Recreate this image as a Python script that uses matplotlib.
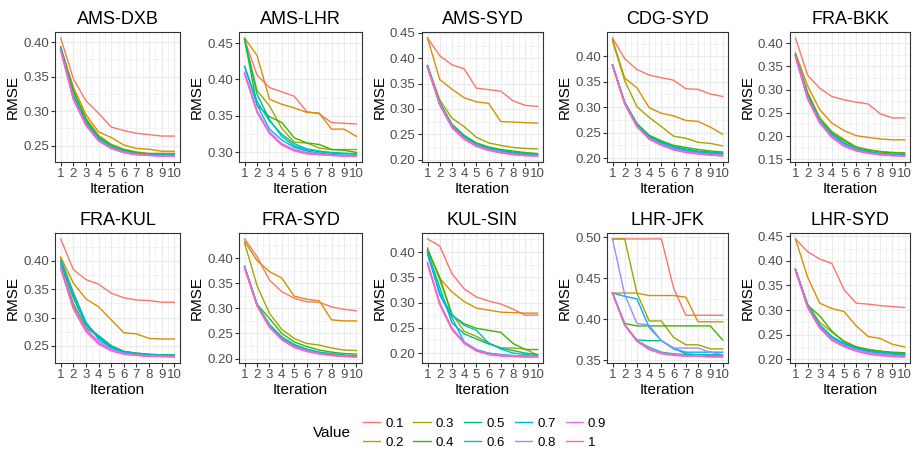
import matplotlib
matplotlib.use("Agg")
import matplotlib.pyplot as plt
from matplotlib.ticker import MultipleLocator, FormatStrFormatter
from matplotlib.lines import Line2D

plt.rcParams['font.family'] = ['Liberation Sans', 'DejaVu Sans']

iterations = [1, 2, 3, 4, 5, 6, 7, 8, 9, 10]
values = ["0.1", "0.2", "0.3", "0.4", "0.5", "0.6", "0.7", "0.8", "0.9", "1"]
colors = ["#F8766D", "#D89000", "#A3A500", "#39B600", "#00BF7D",
          "#00BFC4", "#00B0F6", "#9590FF", "#E76BF3", "#FF62BC"]
routes = ["AMS-DXB", "AMS-LHR", "AMS-SYD", "CDG-SYD", "FRA-BKK",
          "FRA-KUL", "FRA-SYD", "KUL-SIN", "LHR-JFK", "LHR-SYD"]

# one row per Value (0.1 ... 1), RMSE for iterations 1..10
ams_dxb = [
    [0.406, 0.347, 0.315, 0.297, 0.277, 0.272, 0.268, 0.266, 0.264, 0.264],
    [0.393, 0.335, 0.295, 0.270, 0.262, 0.251, 0.246, 0.245, 0.242, 0.242],
    [0.392, 0.330, 0.290, 0.265, 0.252, 0.245, 0.241, 0.239, 0.239, 0.239],
    [0.393, 0.330, 0.288, 0.263, 0.251, 0.244, 0.240, 0.238, 0.238, 0.238],
    [0.391, 0.324, 0.285, 0.261, 0.249, 0.243, 0.239, 0.237, 0.237, 0.237],
    [0.390, 0.322, 0.283, 0.260, 0.248, 0.242, 0.238, 0.237, 0.236, 0.236],
    [0.390, 0.321, 0.282, 0.259, 0.247, 0.241, 0.238, 0.237, 0.236, 0.236],
    [0.389, 0.319, 0.281, 0.258, 0.247, 0.241, 0.238, 0.236, 0.236, 0.236],
    [0.388, 0.318, 0.280, 0.257, 0.246, 0.240, 0.237, 0.236, 0.235, 0.235],
    [0.388, 0.317, 0.279, 0.257, 0.246, 0.240, 0.237, 0.236, 0.235, 0.235],
]
ams_lhr = [
    [0.455, 0.406, 0.389, 0.383, 0.377, 0.356, 0.353, 0.341, 0.340, 0.339],
    [0.457, 0.433, 0.373, 0.366, 0.361, 0.355, 0.354, 0.332, 0.332, 0.322],
    [0.455, 0.385, 0.364, 0.333, 0.314, 0.313, 0.306, 0.304, 0.304, 0.304],
    [0.455, 0.365, 0.349, 0.341, 0.320, 0.313, 0.311, 0.304, 0.303, 0.300],
    [0.455, 0.380, 0.345, 0.322, 0.309, 0.304, 0.301, 0.299, 0.298, 0.298],
    [0.418, 0.370, 0.343, 0.325, 0.312, 0.305, 0.302, 0.300, 0.299, 0.298],
    [0.418, 0.365, 0.332, 0.317, 0.307, 0.302, 0.299, 0.297, 0.296, 0.296],
    [0.410, 0.357, 0.328, 0.312, 0.304, 0.300, 0.298, 0.296, 0.296, 0.295],
    [0.408, 0.356, 0.327, 0.311, 0.303, 0.299, 0.297, 0.296, 0.295, 0.295],
    [0.408, 0.355, 0.326, 0.310, 0.302, 0.298, 0.297, 0.296, 0.295, 0.295],
]
ams_syd = [
    [0.440, 0.405, 0.387, 0.379, 0.341, 0.338, 0.335, 0.316, 0.307, 0.305],
    [0.440, 0.358, 0.339, 0.322, 0.314, 0.311, 0.275, 0.274, 0.273, 0.272],
    [0.386, 0.318, 0.282, 0.265, 0.244, 0.233, 0.228, 0.224, 0.222, 0.221],
    [0.385, 0.313, 0.270, 0.248, 0.233, 0.225, 0.220, 0.217, 0.214, 0.212],
    [0.384, 0.312, 0.268, 0.246, 0.231, 0.223, 0.218, 0.215, 0.212, 0.211],
    [0.384, 0.311, 0.267, 0.244, 0.230, 0.222, 0.217, 0.213, 0.211, 0.210],
    [0.383, 0.310, 0.266, 0.243, 0.229, 0.221, 0.216, 0.212, 0.210, 0.209],
    [0.383, 0.309, 0.265, 0.242, 0.228, 0.220, 0.215, 0.211, 0.209, 0.208],
    [0.382, 0.308, 0.264, 0.241, 0.227, 0.219, 0.214, 0.210, 0.208, 0.207],
    [0.382, 0.308, 0.263, 0.240, 0.226, 0.218, 0.213, 0.210, 0.208, 0.207],
]
cdg_syd = [
    [0.436, 0.395, 0.374, 0.363, 0.358, 0.353, 0.336, 0.335, 0.326, 0.321],
    [0.433, 0.357, 0.338, 0.299, 0.288, 0.283, 0.274, 0.272, 0.261, 0.247],
    [0.430, 0.352, 0.301, 0.280, 0.262, 0.243, 0.239, 0.231, 0.229, 0.224],
    [0.383, 0.310, 0.268, 0.245, 0.234, 0.225, 0.221, 0.217, 0.214, 0.212],
    [0.383, 0.309, 0.266, 0.243, 0.232, 0.223, 0.218, 0.214, 0.212, 0.210],
    [0.383, 0.308, 0.265, 0.241, 0.230, 0.221, 0.216, 0.212, 0.210, 0.209],
    [0.383, 0.308, 0.264, 0.240, 0.229, 0.220, 0.215, 0.211, 0.209, 0.208],
    [0.382, 0.307, 0.263, 0.239, 0.227, 0.218, 0.213, 0.210, 0.207, 0.206],
    [0.382, 0.306, 0.262, 0.238, 0.226, 0.217, 0.212, 0.209, 0.206, 0.205],
    [0.382, 0.306, 0.262, 0.237, 0.225, 0.216, 0.211, 0.208, 0.206, 0.204],
]
fra_bkk = [
    [0.411, 0.331, 0.303, 0.285, 0.278, 0.273, 0.269, 0.248, 0.239, 0.239],
    [0.379, 0.308, 0.257, 0.228, 0.212, 0.201, 0.197, 0.194, 0.192, 0.192],
    [0.376, 0.295, 0.240, 0.210, 0.193, 0.177, 0.171, 0.167, 0.165, 0.164],
    [0.375, 0.290, 0.236, 0.207, 0.190, 0.176, 0.170, 0.166, 0.164, 0.163],
    [0.374, 0.287, 0.234, 0.204, 0.186, 0.173, 0.167, 0.163, 0.161, 0.160],
    [0.374, 0.286, 0.233, 0.203, 0.185, 0.172, 0.166, 0.162, 0.160, 0.159],
    [0.373, 0.285, 0.232, 0.202, 0.184, 0.171, 0.165, 0.162, 0.160, 0.159],
    [0.372, 0.283, 0.230, 0.200, 0.181, 0.170, 0.164, 0.161, 0.159, 0.158],
    [0.371, 0.281, 0.229, 0.198, 0.179, 0.169, 0.163, 0.160, 0.158, 0.157],
    [0.370, 0.280, 0.228, 0.197, 0.178, 0.168, 0.163, 0.160, 0.158, 0.157],
]
fra_kul = [
    [0.439, 0.385, 0.367, 0.359, 0.343, 0.335, 0.331, 0.330, 0.327, 0.327],
    [0.407, 0.361, 0.333, 0.319, 0.296, 0.273, 0.271, 0.263, 0.262, 0.262],
    [0.405, 0.345, 0.290, 0.265, 0.248, 0.240, 0.237, 0.235, 0.234, 0.233],
    [0.390, 0.325, 0.282, 0.267, 0.250, 0.240, 0.236, 0.234, 0.234, 0.233],
    [0.395, 0.335, 0.286, 0.268, 0.250, 0.240, 0.237, 0.235, 0.234, 0.234],
    [0.400, 0.340, 0.290, 0.265, 0.247, 0.239, 0.236, 0.234, 0.233, 0.233],
    [0.400, 0.342, 0.292, 0.262, 0.246, 0.238, 0.235, 0.233, 0.233, 0.232],
    [0.390, 0.320, 0.280, 0.258, 0.244, 0.237, 0.234, 0.232, 0.232, 0.231],
    [0.388, 0.318, 0.278, 0.255, 0.242, 0.236, 0.233, 0.232, 0.231, 0.231],
    [0.386, 0.315, 0.275, 0.253, 0.241, 0.235, 0.233, 0.231, 0.231, 0.230],
]
fra_syd = [
    [0.438, 0.403, 0.356, 0.333, 0.320, 0.313, 0.312, 0.303, 0.298, 0.295],
    [0.433, 0.395, 0.373, 0.360, 0.324, 0.318, 0.315, 0.277, 0.275, 0.275],
    [0.430, 0.345, 0.290, 0.258, 0.240, 0.230, 0.227, 0.221, 0.217, 0.216],
    [0.383, 0.308, 0.280, 0.250, 0.233, 0.224, 0.217, 0.213, 0.210, 0.209],
    [0.383, 0.308, 0.268, 0.243, 0.228, 0.219, 0.213, 0.210, 0.207, 0.206],
    [0.383, 0.307, 0.266, 0.241, 0.226, 0.218, 0.212, 0.209, 0.206, 0.205],
    [0.383, 0.307, 0.265, 0.240, 0.225, 0.217, 0.211, 0.208, 0.206, 0.205],
    [0.382, 0.306, 0.264, 0.239, 0.224, 0.216, 0.210, 0.207, 0.205, 0.204],
    [0.381, 0.305, 0.263, 0.238, 0.223, 0.215, 0.210, 0.207, 0.205, 0.203],
    [0.380, 0.305, 0.262, 0.237, 0.222, 0.214, 0.209, 0.206, 0.204, 0.203],
]
kul_sin = [
    [0.426, 0.412, 0.357, 0.327, 0.311, 0.303, 0.297, 0.287, 0.275, 0.275],
    [0.405, 0.348, 0.321, 0.302, 0.289, 0.285, 0.281, 0.280, 0.279, 0.279],
    [0.408, 0.345, 0.278, 0.243, 0.233, 0.220, 0.210, 0.210, 0.208, 0.196],
    [0.405, 0.350, 0.275, 0.258, 0.249, 0.245, 0.241, 0.219, 0.207, 0.207],
    [0.400, 0.330, 0.260, 0.238, 0.228, 0.218, 0.210, 0.205, 0.200, 0.197],
    [0.395, 0.320, 0.275, 0.255, 0.245, 0.220, 0.208, 0.200, 0.197, 0.195],
    [0.400, 0.315, 0.270, 0.222, 0.207, 0.200, 0.197, 0.195, 0.194, 0.194],
    [0.380, 0.300, 0.250, 0.221, 0.206, 0.199, 0.196, 0.195, 0.194, 0.194],
    [0.378, 0.298, 0.248, 0.220, 0.205, 0.198, 0.195, 0.194, 0.193, 0.193],
    [0.376, 0.296, 0.246, 0.219, 0.204, 0.197, 0.194, 0.193, 0.192, 0.192],
]
lhr_jfk = [
    [0.498, 0.498, 0.498, 0.498, 0.498, 0.438, 0.405, 0.405, 0.405, 0.405],
    [0.432, 0.432, 0.432, 0.429, 0.429, 0.429, 0.427, 0.397, 0.397, 0.397],
    [0.498, 0.498, 0.432, 0.398, 0.398, 0.378, 0.369, 0.369, 0.364, 0.364],
    [0.432, 0.395, 0.392, 0.392, 0.392, 0.392, 0.392, 0.392, 0.392, 0.375],
    [0.432, 0.393, 0.375, 0.374, 0.374, 0.365, 0.358, 0.357, 0.356, 0.356],
    [0.432, 0.393, 0.374, 0.366, 0.360, 0.358, 0.357, 0.357, 0.357, 0.357],
    [0.432, 0.428, 0.425, 0.390, 0.374, 0.364, 0.360, 0.360, 0.360, 0.360],
    [0.498, 0.430, 0.395, 0.393, 0.374, 0.365, 0.365, 0.365, 0.360, 0.357],
    [0.432, 0.394, 0.374, 0.364, 0.359, 0.357, 0.356, 0.355, 0.355, 0.355],
    [0.432, 0.393, 0.373, 0.363, 0.358, 0.356, 0.355, 0.355, 0.354, 0.354],
]
lhr_syd = [
    [0.445, 0.419, 0.404, 0.395, 0.342, 0.314, 0.312, 0.309, 0.307, 0.305],
    [0.445, 0.367, 0.314, 0.303, 0.297, 0.268, 0.246, 0.242, 0.230, 0.225],
    [0.383, 0.312, 0.275, 0.255, 0.237, 0.225, 0.220, 0.216, 0.213, 0.211],
    [0.383, 0.310, 0.288, 0.257, 0.235, 0.225, 0.219, 0.216, 0.214, 0.213],
    [0.383, 0.310, 0.270, 0.246, 0.232, 0.223, 0.217, 0.214, 0.212, 0.210],
    [0.383, 0.310, 0.269, 0.245, 0.231, 0.222, 0.216, 0.213, 0.211, 0.209],
    [0.383, 0.309, 0.268, 0.244, 0.230, 0.221, 0.215, 0.212, 0.210, 0.208],
    [0.382, 0.307, 0.266, 0.241, 0.228, 0.219, 0.213, 0.210, 0.207, 0.206],
    [0.381, 0.306, 0.264, 0.239, 0.226, 0.217, 0.211, 0.208, 0.206, 0.205],
    [0.380, 0.305, 0.263, 0.238, 0.225, 0.216, 0.210, 0.207, 0.205, 0.204],
]
route_data = [ams_dxb, ams_lhr, ams_syd, cdg_syd, fra_bkk,
              fra_kul, fra_syd, kul_sin, lhr_jfk, lhr_syd]

W, H = 914, 451
fig = plt.figure(figsize=(W / 100, H / 100), dpi=100)

# panel boxes in pixels: left, right ; rows: top, bottom
lefts = [55, 239, 422, 607, 790]
rights = [180, 362, 543, 728, 910]
tops = [32, 233]
bottoms = [162, 363]

for k, (name, data) in enumerate(zip(routes, route_data)):
    r, c = divmod(k, 5)
    ax = fig.add_axes([lefts[c] / W, 1 - bottoms[r] / H,
                       (rights[c] - lefts[c]) / W, (bottoms[r] - tops[r]) / H])
    for series, col in zip(data, colors):
        ax.plot(iterations, series, color=col, lw=1.0, zorder=3)
    lo = min(min(s) for s in data)
    hi = max(max(s) for s in data)
    pad = (hi - lo) * 0.05
    ax.set_ylim(lo - pad, hi + pad)
    ax.set_xlim(0.55, 10.45)
    ax.set_xticks(iterations)
    ax.xaxis.set_minor_locator(MultipleLocator(0.5))
    ax.yaxis.set_major_locator(MultipleLocator(0.05))
    ax.yaxis.set_minor_locator(MultipleLocator(0.025))
    ax.yaxis.set_major_formatter(FormatStrFormatter('%.2f'))
    ax.grid(which='major', color='#EBEBEB', lw=0.8, zorder=0)
    ax.grid(which='minor', color='#EBEBEB', lw=0.4, zorder=0)
    ax.set_axisbelow(True)
    for sp in ax.spines.values():
        sp.set_color('#333333')
        sp.set_linewidth(0.8)
    ax.tick_params(which='major', length=3, width=0.8, color='#333333',
                   labelsize=9.5, labelcolor='#4D4D4D', pad=1.5)
    ax.tick_params(which='minor', length=0)
    ax.set_title(name, fontsize=13, pad=6)
    ax.set_xlabel("Iteration", fontsize=11, labelpad=1)
    ax.set_ylabel("RMSE", fontsize=11, labelpad=2)

handles = [Line2D([0], [0], color=col, lw=1.0) for col in colors]
fig.text(332 / W, 1 - 433 / H, "Value", fontsize=11, ha='center', va='center')
fig.legend(handles, values, ncol=5, loc='center left',
           bbox_to_anchor=(356 / W, 1 - 433 / H), borderpad=0,
           frameon=False, fontsize=9.5, handlelength=1.3, handletextpad=0.4,
           columnspacing=0.75, labelspacing=0.5)

fig.savefig("out.png", dpi=100)
